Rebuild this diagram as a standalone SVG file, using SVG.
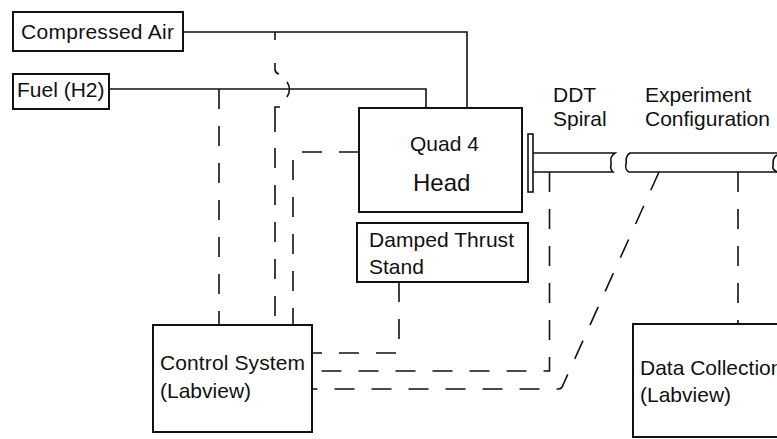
<svg xmlns="http://www.w3.org/2000/svg" width="777" height="439" viewBox="0 0 777 439">
<defs>
<style>
.box{fill:#fff;stroke:#111;stroke-width:2}
.ln{fill:none;stroke:#111;stroke-width:1.6}
.ds{fill:none;stroke:#111;stroke-width:1.6;stroke-dasharray:20 17}
text{font-family:"Liberation Sans",Arial,sans-serif;font-size:21px;fill:#111}
</style>
</defs>
<rect width="777" height="439" fill="#fff"/>
<g id="connectors">
<path class="ln" d="M183,32 H467 V108"/>
<path class="ln" d="M109,89 H426 V108"/>
<path class="ds" d="M219,89 V325"/>
<path class="ln" d="M275,32 V40 M275,63 V70 Q275.5,73 279,74 M287,82 Q292,89 287,97 M280,107 H275 V132"/>
<path class="ds" d="M275,148 V325"/>
<path class="ds" d="M359,152 H293 V325"/>
<path class="ds" d="M399,282 V353 H312"/>
<path class="ds" d="M549.5,172 V371 H312"/>
<path class="ds" d="M659,172 L563,385 Q562,389 558,389 H312"/>
<path class="ds" d="M738,172 V324"/>
</g>
<g id="compressed-air">
<rect class="box" x="13" y="12" width="170" height="39"/>
<text x="21" y="39" textLength="153">Compressed Air</text>
</g>
<g id="fuel">
<rect class="box" x="13" y="74" width="96" height="35"/>
<text x="17" y="97">Fuel (H2)</text>
</g>
<g id="quad4-head">
<rect class="box" x="359" y="108" width="163" height="104"/>
<text x="410" y="151">Quad 4</text>
<text x="413" y="191" style="font-size:24px">Head</text>
</g>
<g id="ddt-spiral">
<rect class="box" x="528" y="134" width="5" height="58" style="stroke-width:1.6"/>
<path class="ln" d="M533,153 H615 C608,158 612,162 611,165 C610,168 612,171 613,172 H533"/>
<text x="553" y="102">DDT</text>
<text x="553" y="126">Spiral</text>
</g>
<g id="experiment-configuration">
<path class="ln" d="M777,153 H630 C624,157 627,161 626,164 C625,168 627,171 629,172 H777"/>
<path class="ln" d="M777,155 C771,159 774,163 773,166 C772,169 775,171 777,172"/>
<text x="645" y="102">Experiment</text>
<text x="645" y="126">Configuration</text>
</g>
<g id="damped-thrust-stand">
<rect class="box" x="357" y="223" width="171" height="59"/>
<text x="369" y="247" textLength="145">Damped Thrust</text>
<text x="369" y="274">Stand</text>
</g>
<g id="control-system">
<rect class="box" x="153" y="325" width="159" height="107"/>
<text x="160" y="370" textLength="145">Control System</text>
<text x="160" y="398">(Labview)</text>
</g>
<g id="data-collection">
<rect class="box" x="633" y="324" width="160" height="113"/>
<text x="640" y="375">Data Collection</text>
<text x="640" y="402">(Labview)</text>
</g>
</svg>
